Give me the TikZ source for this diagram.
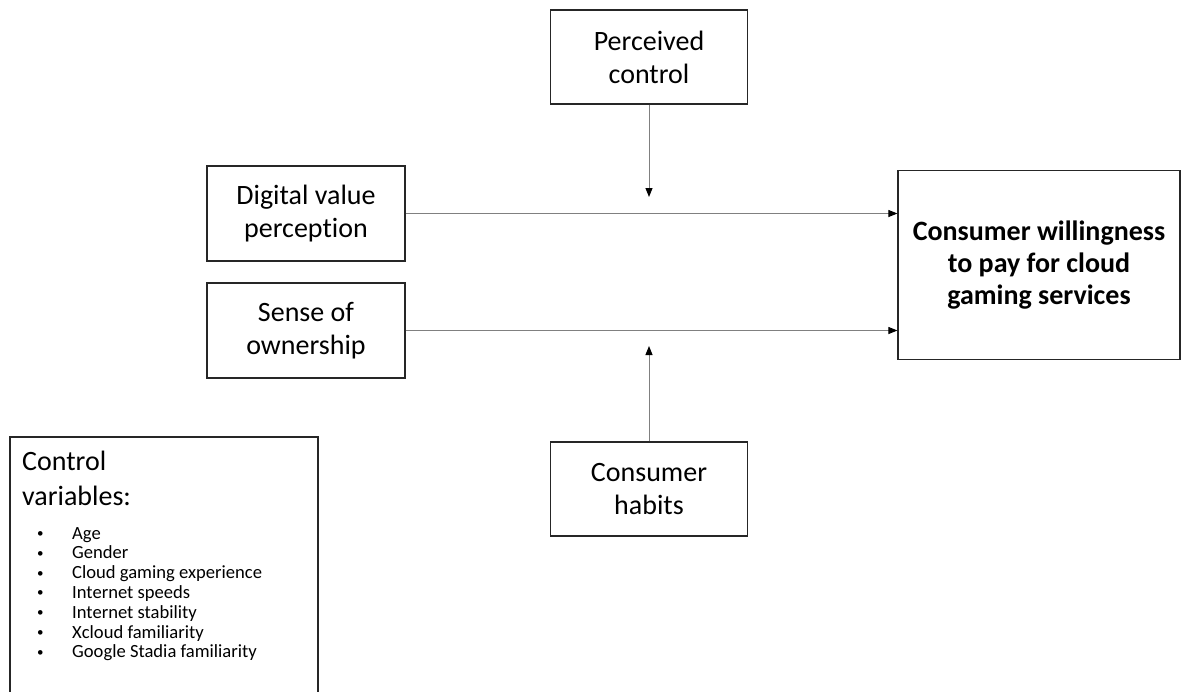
\documentclass[tikz,border=0pt]{standalone}
\usepackage{fontspec}
\setmainfont{Carlito}[Ligatures=NoCommon]
\usetikzlibrary{arrows.meta}
\tikzset{
  box/.style={draw=black!85, line width=1.2pt, minimum width=197pt, minimum height=94pt,
    inner sep=0pt, align=center, font=\fontsize{28}{33}\selectfont},
  link/.style={draw=black!50, line width=1pt, -{Triangle[black,length=9pt,width=7pt]}},
  listitem/.style={anchor=base west, inner sep=0pt, font=\fontsize{18.6}{20}\selectfont}
}
\begin{document}
\begin{tikzpicture}[x=1pt,y=-1pt]
	\useasboundingbox (0,0) rectangle (1185,691);
	% model boxes
	\node[box] (pc) at (649,57) {Perceived\\control};
	\node[box, minimum width=198pt, minimum height=95pt] (dvp) at (306,213.5) {Digital value\\perception};
	\node[box, minimum width=198pt, minimum height=95pt] (soo) at (306,330.5) {Sense of\\ownership};
	\node[box, minimum width=282pt, minimum height=189pt, font=\fontsize{28}{32}\bfseries] (wtp) at (1039,265) {Consumer willingness\\to pay for cloud\\gaming services};
	\node[box] (ch) at (649,489) {Consumer\\habits};
	\coordinate (pcend) at (649,197);
	\coordinate (chend) at (649,346);
	% arrows
	\draw[link] (dvp.east) -- (dvp.east -| wtp.west);
	\draw[link] (soo.east) -- (soo.east -| wtp.west);
	\draw[link] (pc) -- (pcend);
	\draw[link] (ch) -- (chend);
	% control variables
	\draw[draw=black!85, line width=1.2pt] (10,700) -- (10,437) -- (318,437) -- (318,700);
	\node[anchor=base west, inner sep=0pt, font=\fontsize{28}{33}\selectfont] (cv1) at (22,470) {Control};
	\node[anchor=base west, inner sep=0pt, font=\fontsize{28}{33}\selectfont] (cv2) at (22,505) {variables:};
	\foreach \txt [count=\i] in {Age, Gender, Cloud gaming experience, Internet speeds,
	    Internet stability, Xcloud familiarity, Google Stadia familiarity}
	  \node[listitem] (item\i) at (37,{539+19.8*(\i-1)}) {\makebox[35pt][l]{\raisebox{1.5pt}{\fontsize{13}{13}\selectfont•}}\txt};
\end{tikzpicture}
\end{document}
